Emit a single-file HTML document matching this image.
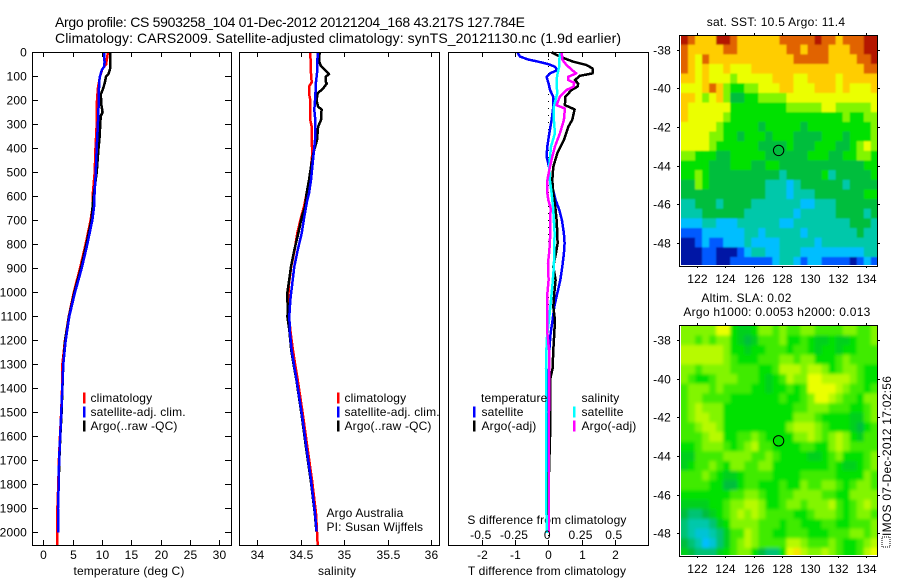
<!DOCTYPE html>
<html>
<head>
<meta charset="utf-8">
<title>Argo profile 5903258_104</title>
<style>
html,body{margin:0;padding:0;background:#fff;width:900px;height:580px;overflow:hidden}
svg{display:block}
text{font-family:"Liberation Sans",sans-serif;font-size:12px;fill:#000;letter-spacing:0.16px}
text.wide{letter-spacing:0.27px}
</style>
</head>
<body>
<svg id="chart" width="900" height="580" viewBox="0 0 900 580" xmlns="http://www.w3.org/2000/svg">
<defs>
<filter id="blur-sst" x="-5%" y="-5%" width="110%" height="110%"><feGaussianBlur stdDeviation="0.8"/></filter>
<filter id="blur-sla" x="-5%" y="-5%" width="110%" height="110%"><feGaussianBlur stdDeviation="1.5"/></filter>
</defs>
<rect width="900" height="580" fill="#fff"/>
<text x="55" y="27" style="font-size:14px;letter-spacing:0" textLength="470" lengthAdjust="spacing">Argo profile: CS 5903258_104 01-Dec-2012 20121204_168 43.217S 127.784E</text>
<text x="55" y="43" style="font-size:14px;letter-spacing:0" textLength="566" lengthAdjust="spacing">Climatology: CARS2009. Satellite-adjusted climatology: synTS_20121130.nc (1.9d earlier)</text>
<text x="129" y="575" text-anchor="middle">temperature (deg C)</text>
<text x="337" y="575" text-anchor="middle">salinity</text>
<text x="547" y="575" text-anchor="middle">T difference from climatology</text>
<text x="547" y="524" text-anchor="middle">S difference from climatology</text>
<text x="326.5" y="517">Argo Australia</text>
<text x="326.5" y="531">PI: Susan Wijffels</text>
<text class="wide" x="776" y="26" text-anchor="middle">sat. SST: 10.5 Argo: 11.4</text>
<text class="wide" x="746.5" y="302" text-anchor="middle">Altim. SLA: 0.02</text>
<text class="wide" x="777" y="316" text-anchor="middle">Argo h1000: 0.0053 h2000: 0.013</text>
<text class="wide" transform="translate(891,536) rotate(-90)">IMOS 07-Dec-2012 17:02:56</text>
<rect x="882" y="537" width="8" height="10" fill="none" stroke="#000" stroke-width="1" stroke-dasharray="1 1"/>
<g id="layer"></g>
</svg>
<script>
// ---------- Profile panel data ----------
const depthTicks = [0,100,200,300,400,500,600,700,800,900,1000,1100,1200,1300,1400,1500,1600,1700,1800,1900,2000];
const tempTicks = [0,5,10,15,20,25,30];
const salTicks = [34,34.5,35,35.5,36];
const salTickLabels = ['34','34.5','35','35.5','36'];
const tDiffTicks = [-2,-1,0,1,2];
const sDiffTicks = [-0.5,-0.25,0,0.25,0.5];
const sDiffTickLabels = ['-0.5','-0.25','0','0.25','0.5'];

const tempClimDepth = [0,50,70,100,150,200,300,400,500,600,645,700,800,900,1000,1100,1200,1300,1400,1500,1600,1700,1800,1900,2000,2055];
const tempClimValue = [11.0,10.7,10.05,9.66,9.3,9.15,9.1,8.9,8.75,8.4,8.4,8.05,7.2,6.25,5.2,4.35,3.7,3.25,3.2,3.05,2.85,2.65,2.55,2.4,2.4,2.4];
const tempSatDepth = [0,25,40,60,75,100,125,200,300,400,500,600,645,700,800,900,1000,1100,1200,1300,1400,1500,1600,1700,1800,1900,2000];
const tempSatValue = [10.4,10.35,10.45,10.35,9.95,9.66,9.5,9.45,9.3,9.1,8.94,8.7,8.64,8.35,7.5,6.54,5.4,4.43,3.81,3.41,3.24,3.07,2.88,2.7,2.62,2.5,2.5];
const tempArgoDepth = [0,70,90,100,125,150,175,220,250,265,300,350,400,500,600,700,800,900,1000,1100,1200,1300,1400,1500,1600,1700,1800,1900,2000];
const tempArgoValue = [11.36,11.36,11.1,10.7,10.5,10.2,9.8,9.9,10.1,9.8,9.7,9.6,9.4,9.1,8.55,8.2,7.35,6.4,5.3,4.38,3.72,3.4,3.25,3.12,2.9,2.72,2.62,2.5,2.5];

const salClimDepth = [0,88,125,143,171,199,282,310,366,421,477,532,588,643,685,754,824,893,963,1032,1101,1171,1240,1310,1365,1504,1643,1782,1921,2053];
const salClimValue = [34.61,34.618,34.626,34.595,34.595,34.61,34.61,34.626,34.626,34.633,34.618,34.603,34.568,34.538,34.505,34.46,34.43,34.39,34.365,34.355,34.365,34.385,34.41,34.44,34.465,34.523,34.576,34.63,34.676,34.695];
const salSatDepth = [0,88,123,185,240,282,366,421,477,532,588,615,685,754,824,893,963,1032,1101,1171,1240,1310,1365,1504,1643,1782,1921,1997];
const salSatValue = [34.695,34.687,34.676,34.668,34.656,34.668,34.664,34.649,34.633,34.618,34.595,34.576,34.541,34.511,34.465,34.426,34.403,34.38,34.369,34.376,34.395,34.426,34.453,34.511,34.564,34.618,34.664,34.683];
const salArgoDepth = [0,32,53,71,91,102,123,130,150,171,199,227,238,282,310,366,421,477,532,588,643,685,754,824,893,963,1011,1074,1101,1157,1240,1310,1365,1504,1643,1782,1921,1997];
const salArgoValue = [34.718,34.71,34.725,34.77,34.825,34.787,34.787,34.8,34.76,34.695,34.683,34.7,34.74,34.733,34.7,34.687,34.645,34.618,34.595,34.568,34.55,34.514,34.472,34.426,34.388,34.361,34.342,34.353,34.346,34.369,34.39,34.422,34.45,34.508,34.56,34.615,34.662,34.68];

const tDiffSatDepth = [0,18,30,39,49,60,74,88,102,113,130,157,185,227,282,338,393,435,477,532,588,615,657,699,754,796,838,893,949,1004,1060,1115,1171,1240,1317,1500,1800,2000];
const tDiffSatValue = [-0.93,-0.85,-0.6,-0.3,0,0.2,0.27,0.05,-0.05,-0.03,0.01,0.05,0.15,0.15,0.1,0.03,-0.03,-0.05,0.02,0.05,0.17,0.22,0.33,0.41,0.47,0.49,0.47,0.42,0.36,0.27,0.18,0.13,0.07,0.03,0.02,0.01,0,0];
const tDiffArgoDepth = [0,18,39,53,67,88,98,116,130,143,157,185,220,238,282,310,366,421,477,532,588,615,657,699,754,796,838,893,949,1004,1060,1115,1171,1240,1317,1365,1560,1750,1950];
const tDiffArgoValue = [0.1,0.35,0.75,1.15,1.33,1.33,0.95,0.8,0.9,0.88,0.7,0.51,0.5,0.79,0.72,0.6,0.47,0.27,0.15,0.12,0.15,0.18,0.22,0.25,0.27,0.28,0.23,0.15,0.22,0.18,0.15,0.2,0.18,0.15,0.13,0.05,0.06,0.02,0.01];
const sDiffSatDepth = [0,32,60,88,116,171,227,282,338,393,477,532,588,615,650,754,893,976,1032,1115,1198,1317,1851,2003];
const sDiffSatValue = [0.092,0.082,0.082,0.07,0.062,0.067,0.042,0.042,0.05,0.02,0.007,0.012,0.025,0.03,0.037,0.047,0.042,0.03,0.02,0.005,-0.012,-0.017,-0.017,-0.01];
const sDiffArgoDepth = [0,32,53,74,88,102,116,127,143,157,185,220,234,282,338,393,435,477,532,588,615,650,685,754,824,879,949,1004,1088,1171,1240,1317,1500,2000];
const sDiffArgoValue = [0.1,0.107,0.137,0.18,0.21,0.15,0.15,0.195,0.19,0.137,0.087,0.062,0.125,0.117,0.087,0.05,0.03,0.012,-0.007,-0.007,0,0.018,0.015,0.015,0.008,-0.002,0.002,-0.007,-0.007,-0.007,0.005,0.008,0.005,0.005];

// ---------- Legend labels ----------
const profileLegendLabels = ['climatology','satellite-adj. clim.','Argo(..raw -QC)'];
const profileLegendColors = ['#ff0000','#0000ff','#000000'];
const diffLegendLeftLabels = ['satellite','Argo(-adj)'];
const diffLegendLeftColors = ['#0000ff','#000000'];
const diffLegendRightLabels = ['satellite','Argo(-adj)'];
const diffLegendRightColors = ['#00ffff','#ff00ff'];

// ---------- Map axes ----------
const lonTicks = [122,124,126,128,130,132,134];
const latTicks = [-38,-40,-42,-44,-46,-48];
const argoLon = 127.784;
const argoLat = -43.217;

// SST colour level per 0.5 deg cell (north to south, west to east)
const sstGrid = [
[10,9,8,8,8,10,10,9,8,8,8,8,8,8,9,9,9,9,9,10,9,9,8,9,9,9,10,10],
[9,8,8,8,8,8,9,9,8,8,8,8,8,8,8,9,9,8,9,9,9,8,8,8,9,9,10,10],
[9,8,7,9,8,8,8,8,8,8,8,8,8,8,8,8,9,9,9,9,9,8,8,8,8,9,9,10],
[9,8,7,8,7,7,8,7,7,7,8,8,8,8,8,8,8,8,8,8,8,8,8,8,8,8,9,9],
[8,8,7,8,7,7,7,6,7,7,7,7,7,8,8,8,7,7,8,8,8,8,7,8,8,8,8,8],
[7,7,7,8,9,8,6,5,5,6,6,7,7,7,8,8,7,7,7,8,8,8,7,8,7,7,7,8],
[8,8,7,6,7,8,6,4,4,5,5,6,6,6,6,7,7,7,7,7,7,7,7,7,7,7,7,7],
[8,7,7,7,7,7,7,5,5,5,5,5,5,5,5,6,6,6,6,6,7,7,6,6,6,6,6,7],
[8,7,7,7,7,7,6,5,5,5,5,5,5,5,5,5,5,5,5,5,5,5,5,6,5,5,6,6],
[7,7,7,7,7,6,5,5,5,5,5,4,5,5,5,5,5,4,5,5,5,5,5,5,5,5,5,6],
[7,7,7,7,6,6,5,5,4,5,5,5,4,5,5,5,4,4,4,4,5,5,5,4,5,5,5,6],
[7,7,7,7,6,5,5,5,5,5,5,4,4,4,4,5,4,4,4,5,5,5,4,4,5,6,7,6],
[6,6,5,5,5,4,4,5,5,5,5,5,4,4,4,4,4,4,5,5,5,4,4,5,5,6,6,5],
[5,5,5,5,4,4,4,5,5,5,4,4,5,5,4,4,4,4,4,4,4,4,4,4,4,4,5,5],
[5,5,6,5,4,4,4,4,4,4,4,4,4,4,3,4,4,4,4,4,5,3,4,4,4,4,4,5],
[4,4,6,5,4,4,4,4,4,4,4,4,3,3,3,2,3,4,4,4,4,4,4,3,4,4,4,4],
[4,4,4,4,4,4,4,4,4,4,4,4,3,3,3,2,3,3,3,4,4,4,4,4,4,4,5,5],
[3,3,4,4,4,3,4,4,4,4,3,3,3,3,3,3,3,2,2,3,3,3,4,4,4,4,4,4],
[3,3,3,4,4,4,4,4,4,3,3,3,3,3,3,3,2,3,3,3,3,3,4,4,4,4,3,4],
[2,2,2,3,3,2,2,2,3,3,3,3,3,3,2,2,3,3,3,3,3,3,3,3,4,4,4,3],
[1,1,1,2,2,2,2,2,2,3,3,2,3,3,3,3,3,2,3,3,3,3,3,3,3,4,3,3],
[0,0,1,2,1,1,2,2,2,3,2,2,2,2,3,3,3,3,3,2,3,3,3,3,3,3,3,3],
[0,0,0,1,1,0,0,0,1,2,3,3,2,2,3,3,3,2,2,2,2,2,2,2,2,2,3,3],
[0,0,0,1,1,0,0,1,1,1,1,1,1,2,3,3,2,1,2,2,1,1,1,1,0,1,2,1]
];

// Sea level anomaly colour level per 0.5 deg cell
const slaGrid = [
[6,6,6,6,6,7,7,5,4.5,4.5,5,6,6,5.5,6,5.5,5.5,6,6,5.5,5.5,5.5,5.5,6,6,5.5,5.5,6],
[6,6,5.5,6,5.5,6,6,5,4.5,4,4.5,5.5,5.5,5.5,6,5,5,5.5,5,4.5,4.5,5,4.5,4.5,5,5.5,5.5,6],
[6.5,6.5,6.5,6.5,6.5,6.5,6,5,5,4.5,5,5,5.5,5.5,5.5,5,5.5,5.5,5,4.5,5,5,4.5,5,5,5.5,5.5,5.5],
[6.5,6.5,6.5,6.5,6.5,6.5,6,5.5,5,5,5,5.5,5.5,5.5,6,6,5.5,6,6,5,5,5,5.5,6,5.5,5.5,5.5,5.5],
[6,6,5.5,6,6,6,6,5.5,5.5,5.5,5.5,5,5,5.5,6.5,6.5,6.5,6,6.5,6.5,6,5,5.5,6,6,5.5,5,5],
[6,5.5,5,5,5.5,6,6,6,5.5,5.5,5.5,5,4.5,5,5.5,6.5,6,6,7,7,6.5,6.5,6.5,6.5,6,5.5,5,5],
[5.5,6,6,6,5.5,6,5.5,5.5,5.5,5.5,5,5,4.5,5,5,5.5,5,5.5,7,7,7,7,6.5,6,5.5,5.5,5,5.5],
[5.5,6,6,5.5,5.5,5.5,5.5,5,5,5,5,5,5,5,5.5,5,5,5.5,6,7,7,6.5,6,5.5,5.5,5,6,6],
[5.5,6,6.5,6,6,6,5,5,5,5,5,5,5,5,5,5,5.5,5.5,6,6,6,5.5,5.5,5.5,5,5,5.5,6],
[5.5,6,6.5,6.5,6,6,5,5,5,5,5,5,5,5,5,5,6,6,6,5.5,5,5,5,5,4.5,4.5,5.5,6],
[5.5,5.5,6,6.5,6.5,6,5,5,5,5,5,5,5,5,5,6,6.5,6.5,6.5,6,5.5,5,5,5,4.5,4,5,5.5],
[5.5,5.5,5.5,6,6.5,6.5,5,5,5.5,5.5,6,5.5,5,5,5,5,6,6,6.5,6,5.5,6,6.5,6,5,4.5,5.5,5.5],
[5,5,5.5,6,6,6,5.5,5,5.5,6,6.5,5.5,5.5,5,5,5,5,5.5,5.5,5,5,6,6.5,6,5.5,5.5,5.5,5.5],
[4.5,4.5,5.5,5.5,5.5,5.5,6,6,6,6,5.5,5.5,6,5.5,5,5,5,5,4.5,4.5,5,5.5,6,5,5,5,5.5,6],
[4.5,5,5.5,5.5,6,5.5,5,6,6,5.5,5.5,6,6,5,5,5,5,5,5,5,5,5.5,5,4.5,4.5,5,5.5,6],
[5.5,5.5,5.5,6,5.5,5,4.5,4.5,5,5.5,5.5,5.5,5.5,5,5,5,5,5.5,5.5,5.5,5.5,5.5,5,5,5,5,6,5.5],
[5.5,5.5,5.5,5.5,5,5,4,4,5,5.5,5.5,5,5,5,5.5,5,5,6,5.5,5.5,6,6,5.5,5,5.5,6,6,5.5],
[5,5,5,5,5,5,5,5.5,5.5,6,6,5.5,5,5,5.5,5.5,6,6,6,6,5.5,5.5,5,5,6,6,6,6],
[4.5,4.5,4.5,4.5,5,5,5.5,6,6,6.5,6.5,6,5,5,5.5,6,6,5.5,6,6,6,6.5,5.5,5,5.5,6,6.5,6],
[4,3.5,3.5,4,4.5,5,5.5,6,6.5,6,6.5,6,5.5,5.5,5.5,5.5,5,5,5.5,6,6,6,5.5,5,5.5,6,6,5.5],
[3.5,3,3,3,3.5,4.5,5,6,6,6,6,5.5,5.5,5.5,5,5.5,5.5,5,5,5,5.5,5.5,5,5,5.5,5.5,5.5,6],
[3.5,3,2.5,2.5,3,3.5,4.5,5.5,5.5,6.5,6,5.5,5.5,5,5,5.5,5.5,5.5,5,5,5,5.5,5.5,5.5,6,6,5.5,6],
[4,3.5,3,2,2.5,3.5,4.5,5.5,6,6.5,6,5.5,5.5,5.5,5.5,6.5,6.5,6,5.5,5.5,5.5,6,5.5,5,5,5.5,6,6.5],
[4.5,4,3.5,3.5,3.5,4.5,5,5.5,6,6,5,4,3.5,3.5,5,7,7.5,6.5,6,6,6.5,6,5.5,5,5,5.5,6.5,7]
];

const NS = 'http://www.w3.org/2000/svg';
const layer = document.getElementById('layer');
function mk(tag, attrs, parent){
  const e = document.createElementNS(NS, tag);
  for (const k in attrs) e.setAttribute(k, attrs[k]);
  (parent || layer).appendChild(e);
  return e;
}

// ---------- Axis functions ----------
const yDepth = d => 52.3 + d * 0.24;
const xTemp = t => 43.3 + t * 5.87;
const xSal = s => 257.3 + (s - 34) * 86.85;
const xTDiff = t => 548.3 + t * 33.25;
const xSDiff = s => 548.3 + s * 133;
const xLon = lon => 697.3 + (lon - 122) * 14.06;
const yLatTop = lat => 49.7 + (-38 - lat) * 19.3;
const yLatBottom = lat => 340 + (-38 - lat) * 19.33;

function levelColor(v){
  const stops = [[0,20,165],[0,90,255],[0,190,255],[0,200,170],[0,190,60],[0,225,0],[130,245,0],[235,255,0],[255,205,0],[225,100,0],[180,20,0]];
  const i = Math.min(Math.floor(v), stops.length - 2), f = v - i;
  const c = stops[i].map((a, k) => Math.round(a + (stops[i + 1][k] - a) * f));
  return 'rgb(' + c.join(',') + ')';
}

// ---------- Profile panels ----------
const pTop = 52, pBottom = 545;
function frame(x0, x1, y0, y1){
  const r = mk('rect', {x: x0 + 0.5, y: y0 + 0.5, width: x1 - x0, height: y1 - y0, fill: 'none', stroke: '#000', 'stroke-width': 1, 'shape-rendering': 'crispEdges'});
  
  
}
function tickLine(x1, y1, x2, y2){
  const l = mk('line', {x1: x1, y1: y1, x2: x2, y2: y2, stroke: '#000', 'stroke-width': 1, 'shape-rendering': 'crispEdges'});
  
  
}
function label(x, y, s, anchor){
  const t = mk('text', {x: x, y: y, 'text-anchor': anchor || 'middle'});
  t.textContent = s;
  
  
}
function curve(xf, depths, values, color, name){
  const pts = depths.map((d, i) => xf(values[i]).toFixed(1) + ',' + yDepth(d).toFixed(1)).join(' ');
  const p = mk('polyline', {points: pts, fill: 'none', stroke: color, 'stroke-width': 2.5, 'shape-rendering': 'crispEdges', 'stroke-linejoin': 'round'});
  
  
}
function legendEntry(barX, textX, y, s, color){
  const b = mk('rect', {x: barX, y: y - 5.5, width: 2.5, height: 11, fill: color, 'shape-rendering': 'crispEdges'});
  
  
  const t = mk('text', {x: textX, y: y + 4});
  t.textContent = s;
  
  
}

// Panel 1: temperature
curve(xTemp, tempClimDepth, tempClimValue, '#ff0000', 'temperature-climatology-line');
curve(xTemp, tempArgoDepth, tempArgoValue, '#000000', 'temperature-argo-line');
curve(xTemp, tempSatDepth, tempSatValue, '#0000ff', 'temperature-satellite-line');
frame(32, 231, pTop, pBottom);
depthTicks.forEach(d => {
  const y = Math.round(yDepth(d)) + 0.5;
  tickLine(32, y, 38, y);
  tickLine(225, y, 231, y);
  label(27, y + 4, String(d), 'end');
});
tempTicks.forEach(t => {
  const x = Math.round(xTemp(t)) + 0.5;
  tickLine(x, pTop, x, pTop + 5);
  tickLine(x, pBottom, x, pBottom - 5);
  label(x, 559, String(t));
});

// Panel 2: salinity
curve(xSal, salClimDepth, salClimValue, '#ff0000', 'salinity-climatology-line');
curve(xSal, salArgoDepth, salArgoValue, '#000000', 'salinity-argo-line');
curve(xSal, salSatDepth, salSatValue, '#0000ff', 'salinity-satellite-line');
frame(239, 439, pTop, pBottom);
salTicks.forEach((s, i) => {
  const x = Math.round(xSal(s)) + 0.5;
  tickLine(x, pTop, x, pTop + 5);
  tickLine(x, pBottom, x, pBottom - 5);
  label(x, 559, salTickLabels[i]);
});

// Panel 3: differences
const zeroLine = mk('line', {x1: 548.5, y1: pTop, x2: 548.5, y2: pBottom, stroke: '#000', 'stroke-width': 1, 'stroke-dasharray': '1 6', 'shape-rendering': 'crispEdges'});


curve(xTDiff, tDiffSatDepth, tDiffSatValue, '#0000ff', 't-difference-satellite-line');
curve(xTDiff, tDiffArgoDepth, tDiffArgoValue, '#000000', 't-difference-argo-line');
curve(xSDiff, sDiffSatDepth, sDiffSatValue, '#00ffff', 's-difference-satellite-line');
curve(xSDiff, sDiffArgoDepth, sDiffArgoValue, '#ff00ff', 's-difference-argo-line');
frame(448, 648, pTop, pBottom);
tDiffTicks.forEach(t => {
  const x = Math.round(xTDiff(t)) + 0.5;
  tickLine(x, pTop, x, pTop + 5);
  tickLine(x, pBottom, x, pBottom - 5);
  label(x, 559, String(t));
});
sDiffTicks.forEach((s, i) => {
  label(xSDiff(s) - 1, 539, sDiffTickLabels[i]);
});

// Legends
const legendRows = [398, 412, 426];
profileLegendLabels.forEach((s, i) => {
  legendEntry(83, 90.5, legendRows[i], s, profileLegendColors[i]);
  legendEntry(337, 344.5, legendRows[i], s, profileLegendColors[i]);
});
const hdrT = mk('text', {x: 481, y: 402});
hdrT.textContent = 'temperature';


const hdrS = mk('text', {x: 581.5, y: 402});
hdrS.textContent = 'salinity';


diffLegendLeftLabels.forEach((s, i) => {
  legendEntry(473, 481.5, legendRows[i + 1], s, diffLegendLeftColors[i]);
});
diffLegendRightLabels.forEach((s, i) => {
  legendEntry(573, 581.5, legendRows[i + 1], s, diffLegendRightColors[i]);
});

// ---------- Maps ----------
function drawMap(grid, yLat, y0, y1, clipId, blurId, latStart, mapName, cellName){
  const cp = mk('clipPath', {id: clipId});
  mk('rect', {x: 681, y: y0, width: 196.5, height: y1 - y0 - 1}, cp);
  const outer = mk('g', {'clip-path': 'url(#' + clipId + ')'});
  
  
  const g = mk('g', {filter: 'url(#' + blurId + ')'}, outer);
  const lonStart = 120.84;
  const bleed = 12;
  grid.forEach((row, j) => {
    row.forEach((v, i) => {
      let x = xLon(lonStart + i * 0.5), xn = xLon(lonStart + (i + 1) * 0.5);
      let y = yLat(latStart - j * 0.5), yn = yLat(latStart - (j + 1) * 0.5);
      if (i === 0) x -= bleed;
      if (i === row.length - 1) xn += bleed;
      if (j === 0) y -= bleed;
      if (j === grid.length - 1) yn += bleed;
      const c = mk('rect', {x: x.toFixed(2), y: y.toFixed(2), width: (xn - x + 0.4).toFixed(2), height: (yn - y + 0.4).toFixed(2), fill: levelColor(v)}, g);
      
      
    });
  });
  const r = mk('rect', {x: 679.5, y: y0 + 0.5, width: 198, height: y1 - y0, fill: 'none', stroke: '#000', 'stroke-width': 1, 'shape-rendering': 'crispEdges'});
  
  
  lonTicks.forEach(lon => {
    const x = Math.round(xLon(lon)) + 0.5;
    tickLine(x, y0 - 2, x, y0);
    tickLine(x, y1, x, y1 + 2);
    label(x, y1 + 17, String(lon));
  });
  latTicks.forEach(lat => {
    const y = Math.round(yLat(lat)) + 0.5;
    tickLine(677, y, 680, y);
    tickLine(878, y, 880, y);
    label(671, y + 4, String(lat), 'end');
  });
  const m = mk('circle', {cx: xLon(argoLon).toFixed(1), cy: yLat(argoLat).toFixed(1), r: 5.2, fill: 'none', stroke: '#000', 'stroke-width': 1});
  
  
}
drawMap(sstGrid, yLatTop, 35, 266, 'clip-sst', 'blur-sst', -37.24, 'sst-map', 'sst-cell');
drawMap(slaGrid, yLatBottom, 325, 556, 'clip-sla', 'blur-sla', -37.26, 'sla-map', 'sla-cell');
</script>
</body>
</html>
